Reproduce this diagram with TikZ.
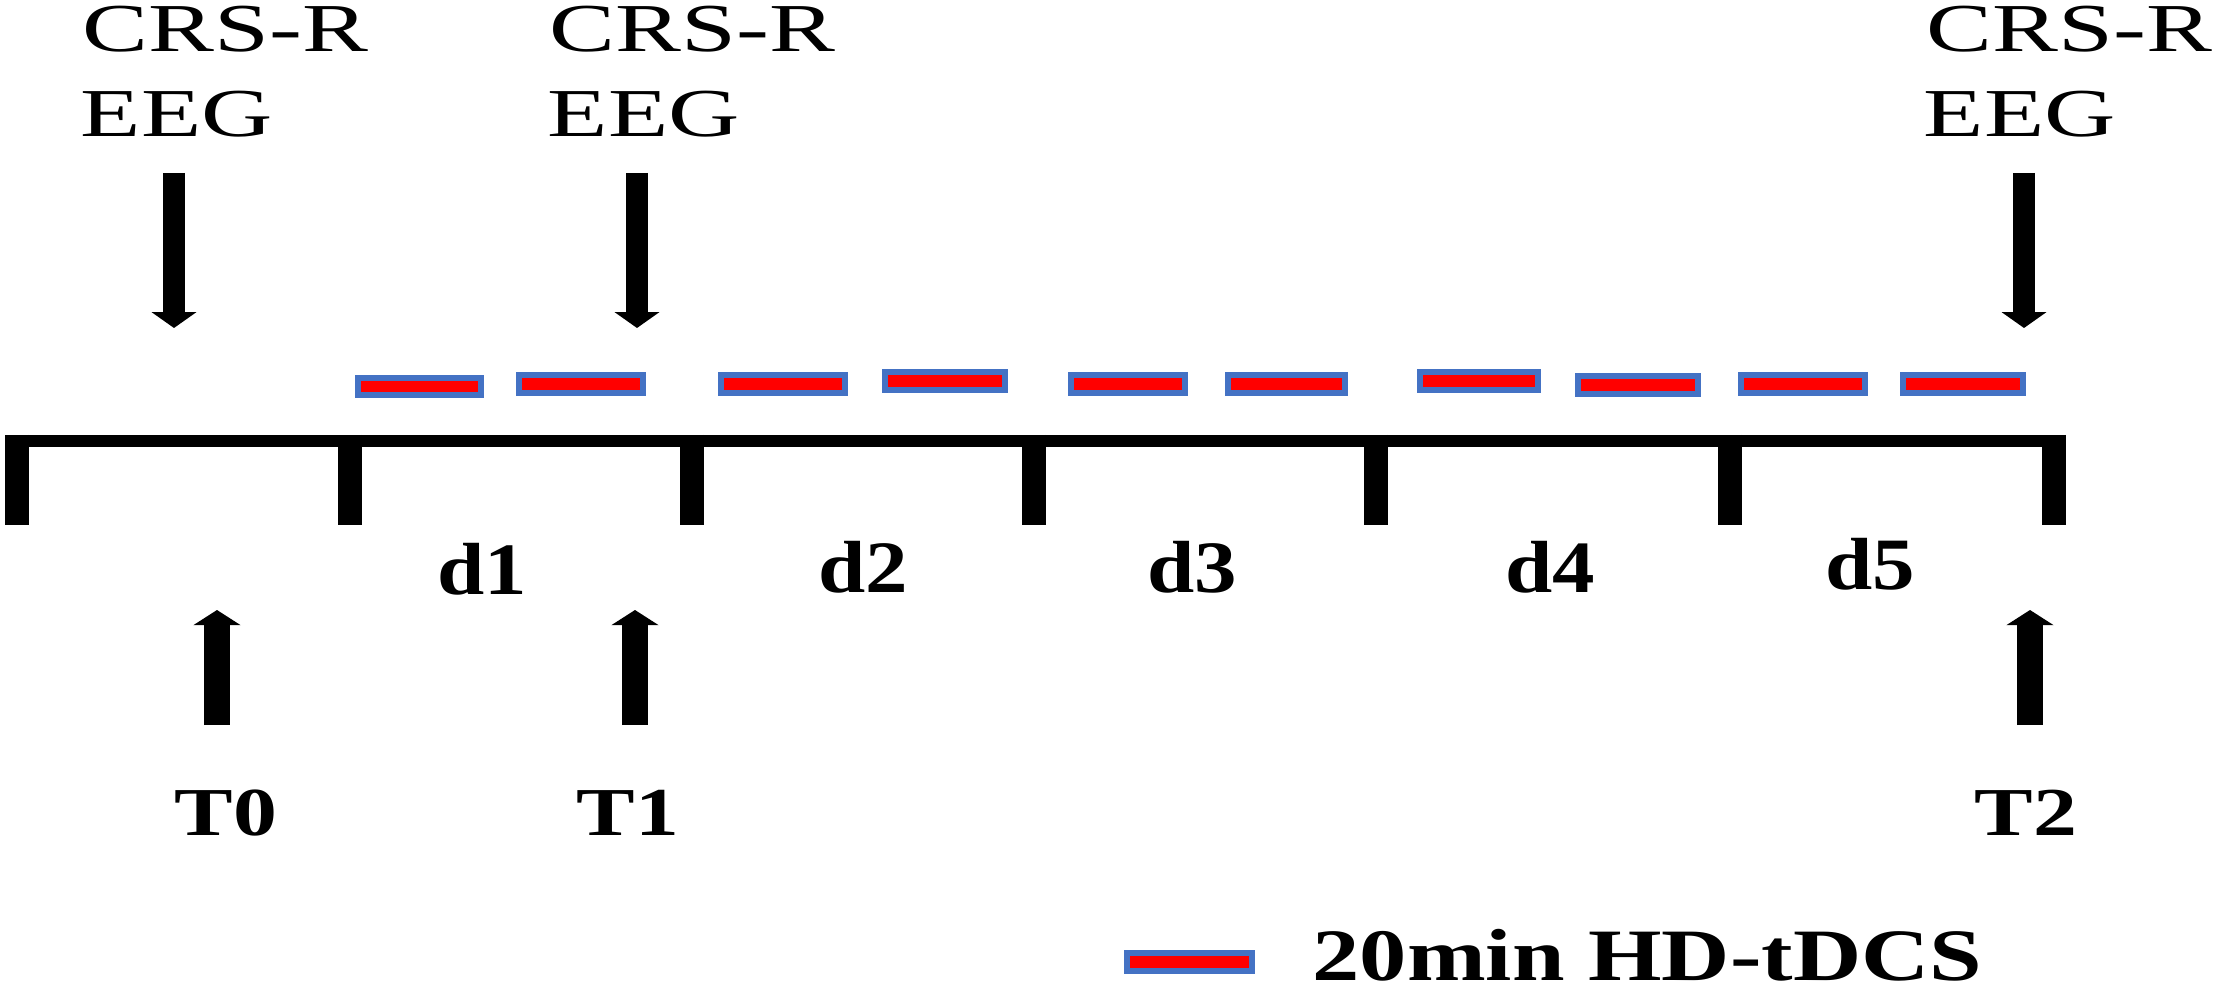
\documentclass[tikz,border=0pt]{standalone}
\usepackage{fontspec}
\setmainfont{Liberation Serif}
\newfontfamily\crsfont[FakeStretch=1.44]{Liberation Serif}
\newfontfamily\dayfont[FakeStretch=1.15]{Liberation Serif}
\newfontfamily\labfont[FakeStretch=1.28]{Liberation Serif}
\usepackage{tikz}
\usetikzlibrary{arrows.meta}
\definecolor{stim_red}{HTML}{FF0000}
\definecolor{stim_blue}{HTML}{4472C4}

\begin{document}
\begin{tikzpicture}[x=0.01cm,y=-0.01cm,
    meas/.style={inner sep=0pt, anchor=base west, font=\crsfont\fontsize{19.5}{22}\selectfont},
    daylab/.style={inner sep=0pt, anchor=base, font=\dayfont\bfseries\fontsize{21}{24}\selectfont},
    timelab/.style={inner sep=0pt, anchor=base, font=\labfont\bfseries\fontsize{19.5}{24}\selectfont},
    measarrow/.style={line width=6.3pt, -{Triangle[width=12.5pt,length=4.5pt]}},
    timearrow/.style={line width=7.4pt, -{Triangle[width=13.2pt,length=4.3pt]}},
    daytick/.style={line width=6.6pt},
    session/.style={draw=stim_blue, fill=stim_red, line width=1.6pt}]

    \useasboundingbox (0,0) rectangle (2217,994);

    % Mesures CRS-R / EEG en haut
    \node[meas] (crs1) at (82,52) {CRS-R};
    \node[meas] (eeg1) at (80,137) {EEG};
    \node[meas] (crs2) at (549,52) {CRS-R};
    \node[meas] (eeg2) at (547,137) {EEG};
    \node[meas] (crs3) at (1926,52) {CRS-R};
    \node[meas] (eeg3) at (1923,137) {EEG};

    \coordinate (M1) at (174,173);
    \coordinate (M2) at (637,173);
    \coordinate (M3) at (2024,173);
    \coordinate (M1e) at (174,328);
    \coordinate (M2e) at (637,328);
    \coordinate (M3e) at (2024,328);

    \draw[measarrow] (M1) -- (M1e);
    \draw[measarrow] (M2) -- (M2e);
    \draw[measarrow] (M3) -- (M3e);

    % Séances de stimulation (2 par jour)
    \draw[session] (358,378) rectangle (481,395);
    \draw[session] (519,375) rectangle (643,393);
    \draw[session] (721,375) rectangle (845,393);
    \draw[session] (885,372) rectangle (1005,390);
    \draw[session] (1071,375) rectangle (1185,393);
    \draw[session] (1228,375) rectangle (1345,393);
    \draw[session] (1420,372) rectangle (1538,390);
    \draw[session] (1578,376) rectangle (1698,394);
    \draw[session] (1741,375) rectangle (1865,393);
    \draw[session] (1903,375) rectangle (2023,393);

    % Axe du temps et graduations
    \coordinate (P0) at (17,435);
    \coordinate (P1) at (350,435);
    \coordinate (P2) at (692,435);
    \coordinate (P3) at (1034,435);
    \coordinate (P4) at (1376,435);
    \coordinate (P5) at (1730,435);
    \coordinate (P6) at (2054,435);

    \draw[line width=3.4pt] (6,441) -- (2066,441);
    \draw[daytick] (P0) -- ++(0,90);
    \draw[daytick] (P1) -- ++(0,90);
    \draw[daytick] (P2) -- ++(0,90);
    \draw[daytick] (P3) -- ++(0,90);
    \draw[daytick] (P4) -- ++(0,90);
    \draw[daytick] (P5) -- ++(0,90);
    \draw[daytick] (P6) -- ++(0,90);

    % Jours
    \node[daylab] (d1) at (482,594) {d1};
    \node[daylab] (d2) at (863,592) {d2};
    \node[daylab] (d3) at (1192,592) {d3};
    \node[daylab] (d4) at (1550,592) {d4};
    \node[daylab] (d5) at (1870,589) {d5};

    % Temps d'évaluation
    \node[timelab] (T0) at (226,835) {T0};
    \node[timelab] (T1) at (628,835) {T1};
    \node[timelab] (T2) at (2026,835) {T2};

    \coordinate (A0) at (217,725);
    \coordinate (A1) at (635,725);
    \coordinate (A2) at (2030,725);
    \coordinate (A0e) at (217,610);
    \coordinate (A1e) at (635,610);
    \coordinate (A2e) at (2030,610);

    \draw[timearrow] (A0) -- (A0e);
    \draw[timearrow] (A1) -- (A1e);
    \draw[timearrow] (A2) -- (A2e);

    % Légende
    \draw[session] (1127,953) rectangle (1252,971);
    \node[timelab, anchor=base west, font=\labfont\bfseries\fontsize{21}{24}\selectfont] (leg) at (1312,980) {20min HD-tDCS};
\end{tikzpicture}
\end{document}
